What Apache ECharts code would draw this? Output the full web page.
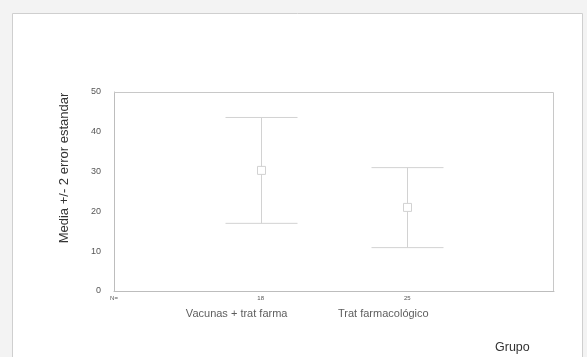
<!DOCTYPE html>
<html>
<head>
<meta charset="utf-8">
<script src="https://cdn.jsdelivr.net/npm/echarts@6/dist/echarts.min.js"></script>
<style>
  html, body { margin: 0; padding: 0; background: #f3f3f3; }
  #chart { width: 587px; height: 357px; }
</style>
</head>
<body>
<div id="chart"></div>
<script>
// Groups, sample sizes and mean +/- 2 SE per group
const groups = ['Vacunas + trat farma', 'Trat farmacológico'];
const counts = ['18', '25'];
const means = [30.3, 21.0];
const lower = [17.0, 10.9];
const upper = [43.6, 31.0];
const yTicks = [0, 10, 20, 30, 40, 50];
const yTitle = 'Media +/- 2 error estandar';
const xTitle = 'Grupo';

const barData = groups.map((g, i) => [i + 1, lower[i], upper[i], means[i]]);
const nameData = groups.map((g, i) => [i + 1, 0, g]);
const countLabels = ['N='].concat(counts);

const chart = echarts.init(document.getElementById('chart'));

chart.setOption({
  animation: false,
  backgroundColor: 'transparent',
  textStyle: { fontFamily: 'Liberation Sans, Arial, sans-serif' },
  graphic: [
    {
      type: 'rect',
      shape: { x: 12.5, y: 13.5, width: 570, height: 350 },
      style: { fill: '#ffffff', stroke: '#cfcfcf', lineWidth: 1 },
      z: -10
    },
    {
      type: 'text',
      x: 64,
      y: 168,
      rotation: Math.PI / 2,
      style: {
        text: yTitle,
        align: 'center',
        verticalAlign: 'middle',
        fontSize: 13,
        fontFamily: 'Liberation Sans, Arial, sans-serif',
        fill: '#333'
      }
    },
    {
      type: 'text',
      x: 495,
      y: 348,
      style: {
        text: xTitle,
        align: 'left',
        verticalAlign: 'middle',
        fontSize: 12.5,
        fontFamily: 'Liberation Sans, Arial, sans-serif',
        fill: '#333'
      }
    }
  ],
  grid: { left: 114, right: 33, top: 92, bottom: 66 },
  xAxis: {
    type: 'value',
    min: 0,
    max: 3,
    splitLine: { show: false },
    axisLine: { show: true, lineStyle: { color: '#bdbdbd' } },
    axisTick: { show: false },
    axisLabel: {
      customValues: [0, 1, 2],
      formatter: (v) => countLabels[Math.round(v)],
      fontSize: 6,
      color: '#555',
      margin: 4
    }
  },
  yAxis: {
    type: 'value',
    min: 0,
    max: 50,
    interval: 10,
    splitLine: { show: false },
    axisLine: { show: true, lineStyle: { color: '#bdbdbd' } },
    axisTick: { show: false },
    axisLabel: {
      customValues: yTicks,
      fontSize: 9,
      color: '#555',
      margin: 13
    }
  },
  series: [
    {
      // frame lines on top and right of the plotting area
      type: 'custom',
      silent: true,
      data: [[0]],
      renderItem: (params, api) => {
        const cs = params.coordSys;
        return {
          type: 'polyline',
          shape: { points: [[cs.x, cs.y + 0.5], [cs.x + cs.width - 0.5, cs.y + 0.5], [cs.x + cs.width - 0.5, cs.y + cs.height]] },
          style: { stroke: '#c8c8c8', fill: null, lineWidth: 1 }
        };
      }
    },
    {
      type: 'custom',
      data: barData,
      encode: { x: 0, y: [1, 2, 3] },
      renderItem: (params, api) => {
        const lo = api.coord([api.value(0), api.value(1)]);
        const hi = api.coord([api.value(0), api.value(2)]);
        const mid = api.coord([api.value(0), api.value(3)]);
        const x = Math.round(lo[0]) + 0.5;
        const half = 36;
        const st = { stroke: '#d2d2d2', fill: null, lineWidth: 1 };
        return {
          type: 'group',
          children: [
            { type: 'line', shape: { x1: x, y1: hi[1], x2: x, y2: lo[1] }, style: st },
            { type: 'line', shape: { x1: x - half, y1: hi[1], x2: x + half, y2: hi[1] }, style: st },
            { type: 'line', shape: { x1: x - half, y1: lo[1], x2: x + half, y2: lo[1] }, style: st },
            { type: 'rect', shape: { x: x - 4, y: mid[1] - 4, width: 8, height: 8 },
              style: { stroke: '#d2d2d2', fill: '#ffffff', lineWidth: 1 } }
          ]
        };
      }
    },
    {
      // group names under the sample sizes
      type: 'scatter',
      data: nameData,
      symbolSize: 0,
      silent: true,
      label: {
        show: true,
        position: 'bottom',
        offset: [-24, 12],
        formatter: (p) => p.data[2],
        fontSize: 11,
        color: '#333'
      }
    }
  ]
});
</script>
</body>
</html>
